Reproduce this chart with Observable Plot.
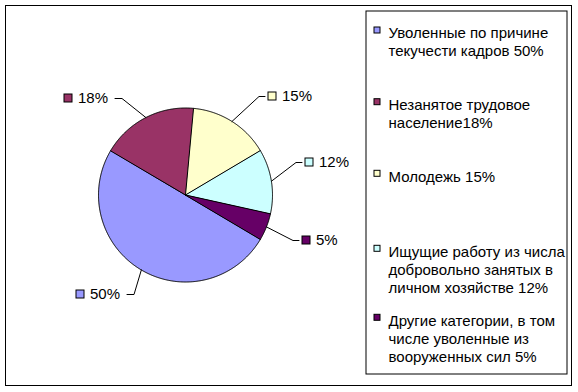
<!DOCTYPE html>
<html>
<head>
<meta charset="utf-8">
<script src="https://cdn.jsdelivr.net/npm/d3@7"></script>
<script src="https://cdn.jsdelivr.net/npm/@observablehq/plot@0.6"></script>
<style>
  html, body { margin: 0; padding: 0; background: #fff; }
  #chart svg { display: block; }
</style>
</head>
<body>
<div id="chart"></div>
<script>
// ---- data ----
const categories = [
  "Уволенные по причине\nтекучести кадров 50%",
  "Незанятое трудовое\nнаселение18%",
  "Молодежь 15%",
  "Ищущие работу из числа\nдобровольно занятых в\nличном хозяйстве 12%",
  "Другие категории, в том\nчисле уволенные из\nвооруженных сил 5%"
];
const values = [50, 18, 15, 12, 5];
const sliceLabels = ["50%", "18%", "15%", "12%", "5%"];
const colors = ["#9999FF", "#993366", "#FFFFCC", "#CCFFFF", "#660066"];

// ---- layout (pixels) ----
const W = 578, H = 392;
const cx = 185, cy = 194.5, R = 87;
const startDeg = 120.5;
const labelPos = [[80, 294, "left"], [68, 98, "left"], [272, 96, "right"], [309, 162, "right"], [306, 240, "right"]];
const legendY = [30, 101.7, 173.3, 248.3, 317.3];
const legendBox = {x1: 366, x2: 567, y1: 11, y2: 374};
const font = "'Liberation Sans', Arial, sans-serif";

const pie = d3.pie().sort(null).value(d => d)
  .startAngle(startDeg * Math.PI / 180)
  .endAngle(startDeg * Math.PI / 180 + 2 * Math.PI)(values);

const px = a => cx + R * Math.sin(a);
const py = a => cy - R * Math.cos(a);

// slice polygons
const slicePts = [];
pie.forEach((p, i) => {
  const cat = categories[i];
  slicePts.push({cat, x: cx, y: cy});
  const n = Math.max(2, Math.ceil((p.endAngle - p.startAngle) / (0.5 * Math.PI / 180)));
  for (let k = 0; k <= n; k++) {
    const a = p.startAngle + (p.endAngle - p.startAngle) * k / n;
    slicePts.push({cat, x: px(a), y: py(a)});
  }
});

// leader lines and label data
const leaderPts = [];
const labelData = [];
pie.forEach((p, i) => {
  const mid = (p.startAngle + p.endAngle) / 2;
  const [kx, ky, side] = labelPos[i];
  let endX, elbowX;
  if (side === "right") { endX = kx - 7.5; elbowX = endX - 6; }
  else { endX = kx + 46.5; elbowX = endX + 7; }
  leaderPts.push({i, x: px(mid), y: py(mid)});
  leaderPts.push({i, x: elbowX, y: ky});
  leaderPts.push({i, x: endX, y: ky});
  labelData.push({cat: categories[i], label: sliceLabels[i], kx, ky});
});

const legendData = categories.map((c, i) => ({cat: c, y: legendY[i]}));

const chart = Plot.plot({
  width: W, height: H,
  marginLeft: 5, marginTop: 5, marginRight: 7, marginBottom: 7,
  x: {domain: [0, W], range: [0, W], axis: null},
  y: {domain: [0, H], range: [0, H], axis: null},
  color: {domain: categories, range: colors},
  style: {fontFamily: font, background: "#fff", overflow: "visible"},
  marks: [
    Plot.frame({stroke: "black", strokeWidth: 1}),
    Plot.line(slicePts, {x: "x", y: "y", z: "cat", fill: "cat", stroke: "black", strokeWidth: 1, curve: "linear-closed"}),
    Plot.line(leaderPts, {x: "x", y: "y", z: "i", stroke: "black", strokeWidth: 1}),
    Plot.rect(labelData, {x1: d => d.kx - 4, x2: d => d.kx + 4, y1: d => d.ky - 4, y2: d => d.ky + 4, fill: "cat", stroke: "black", strokeWidth: 1}),
    Plot.text(labelData, {x: d => d.kx + 9.5, y: "ky", text: "label", textAnchor: "start", lineAnchor: "middle", fontSize: 15, fill: "black"}),
    Plot.rect([legendBox], {x1: "x1", x2: "x2", y1: "y1", y2: "y2", fill: "none", stroke: "black", strokeWidth: 1}),
    Plot.rect(legendData, {x1: 374, x2: 380, y1: d => d.y - 3, y2: d => d.y + 3, fill: "cat", stroke: "black", strokeWidth: 1}),
    Plot.text(legendData, {x: 388, y: d => d.y - 5.3, text: "cat", textAnchor: "start", lineAnchor: "top", fontSize: 15, lineHeight: 1.22, fill: "black"})
  ]
});
document.getElementById("chart").appendChild(chart);
</script>
</body>
</html>
